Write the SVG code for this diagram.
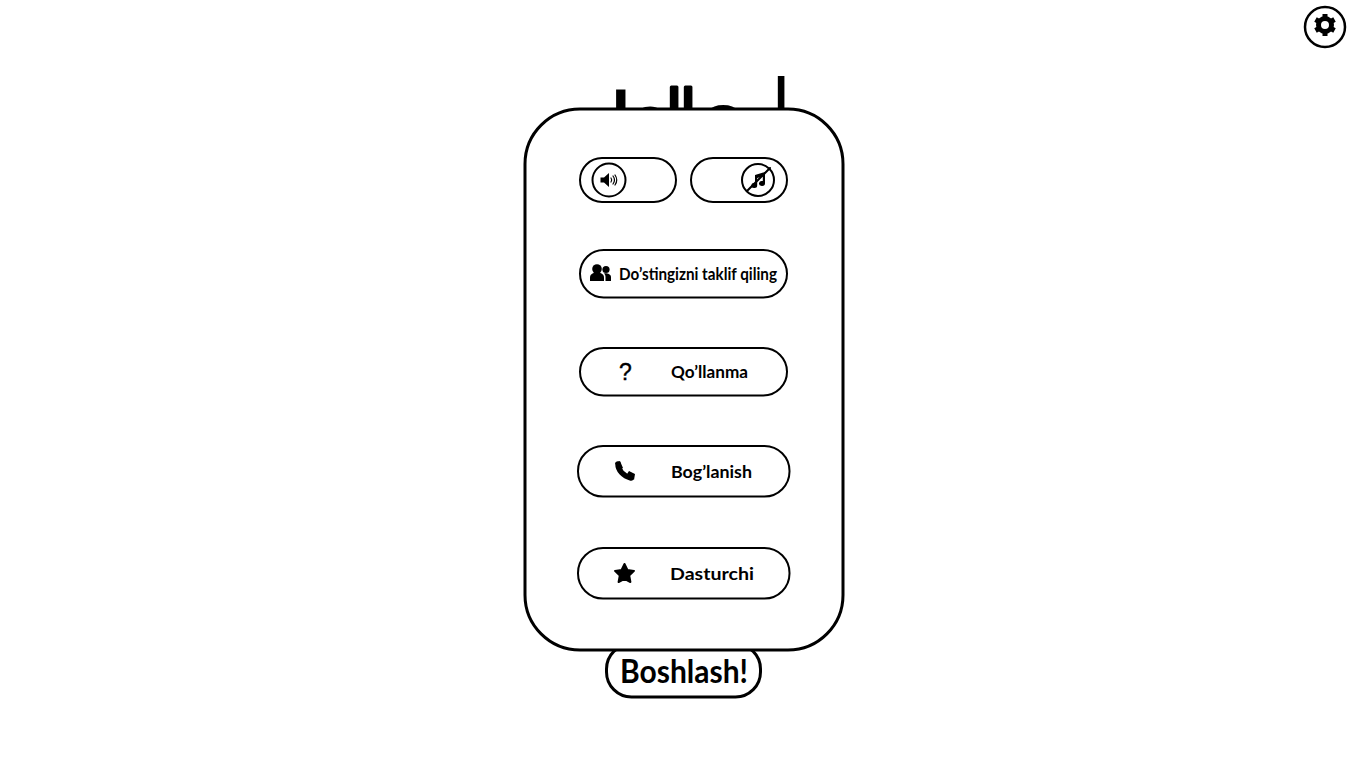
<svg xmlns="http://www.w3.org/2000/svg" width="1365" height="762" viewBox="0 0 1365 762">
<style>
.btn{fill:#fff;stroke:#000;stroke-width:2}
.lbl{font-family:"Lato","Noto Sans",sans-serif;font-size:17px;font-weight:700;fill:#000}
.ttl{font-family:"Liberation Sans",sans-serif;font-size:100px;fill:#000}
.ic{fill:#000}
.ln{fill:none;stroke:#000;stroke-linecap:round}
</style>
<rect width="1365" height="762" fill="#fff"/>
<g id="title">
<text x="578" y="161" font-family="Roboto,sans-serif" font-size="100" fill="#000">J</text>
<text class="ttl"><tspan x="633.500" y="137.500" font-size="60">a</tspan><tspan x="667 681" y="134 134" font-size="64" stroke="#000" stroke-width="3" stroke-linejoin="round">ll</tspan><tspan x="699.500" y="151" font-size="85">o</tspan></text>
<text class="ttl" transform="translate(747.800 213) scale(.75 1.9)">d</text>
</g>
<g id="start-button">
<rect x="606.500" y="644" width="154" height="53" rx="25" fill="#fff" stroke="#000" stroke-width="3"/>
<text x="620" y="683" font-family="Lato,sans-serif" font-size="32" font-weight="700" fill="#000" textLength="128" lengthAdjust="spacingAndGlyphs">Boshlash!</text>
</g>
<g id="panel"><rect x="525" y="109" width="318" height="541" rx="55" fill="#fff" stroke="#000" stroke-width="3"/></g>
<g id="sound-toggle">
<rect class="btn" x="580" y="158" width="96" height="44" rx="22"/>
<circle class="btn" cx="609" cy="180" r="16.500"/>
<path class="ic" d="M600.500 177.500h3.500l5-4.500v14l-5-4.500h-3.500z"/>
<path class="ln" stroke-width="1.200" d="M611 178q1.500 2 0 4M613 176q3 4 0 8M615 175q3.500 5 0 10"/>
</g>
<g id="music-toggle">
<rect class="btn" x="691" y="158" width="96" height="44" rx="22"/>
<circle class="btn" cx="758" cy="180" r="16"/>
<path class="ic" d="M755 175l10-3v11.500a3 2.500 0 1 1-2.200-2.400v-4.600l-5.600 1.600v7.500a3 2.500 0 1 1-2.200-2.400z"/>
<path class="ln" stroke-width="2" d="M747 191l23-23"/>
</g>
<g id="invite-button">
<rect class="btn" x="580" y="250" width="207" height="47.500" rx="23.700"/>
<g class="ic"><circle cx="597" cy="269" r="4.800"/><circle cx="606" cy="269.500" r="3.600"/>
<path d="M590 281v-3.500c0-3 2.500-4.500 4.500-4.500h5c2 0 4.500 1.500 4.500 4.500v3.500z"/><path d="M605.500 281v-4c0-1.500-.5-2.500-1.500-3.500 2-.7 7 .2 7 3.500v4z"/></g>
<text class="lbl" x="619" y="280" textLength="158" lengthAdjust="spacingAndGlyphs">Do’stingizni taklif qiling</text>
</g>
<g id="guide-button">
<rect class="btn" x="580" y="348" width="207" height="47.500" rx="23.700"/>
<text x="625.500" y="380" text-anchor="middle" font-family="Liberation Sans,sans-serif" font-size="23" font-weight="400" fill="#000" stroke="#000" stroke-width=".4">?</text>
<text class="lbl" x="671" y="378" textLength="77" lengthAdjust="spacingAndGlyphs">Qo’llanma</text>
</g>
<g id="contact-button">
<rect class="btn" x="578" y="446" width="211.500" height="50.500" rx="25"/>
<path class="ln" stroke-width="5.500" stroke-linejoin="round" d="M618 464c0 6 5 12 13 14"/>
<path class="ic" d="M615 463l5-2 3 7-4 2zM627 474l2-3 6 3-1 6z"/>
<text class="lbl" x="671" y="478" textLength="81" lengthAdjust="spacingAndGlyphs">Bog’lanish</text>
</g>
<g id="developer-button">
<rect class="btn" x="578" y="548" width="211.500" height="50.500" rx="25"/>
<path class="ic" stroke="#000" stroke-width="2" stroke-linejoin="round" d="M624.500 564l2.900 6 6.600.900-4.800 4.600 1.200 6.500-5.900-3.100-5.900 3.100 1.200-6.500-4.800-4.600 6.600-.900z"/>
<text class="lbl" x="670" y="580" textLength="84" lengthAdjust="spacingAndGlyphs">Dasturchi</text>
</g>
<g id="settings-button">
<circle cx="1325" cy="27" r="20" fill="#fff" stroke="#000" stroke-width="2.500"/>
<circle cx="1325" cy="25" r="6.500" fill="none" stroke="#000" stroke-width="5"/>
<path class="ln" stroke-width="5" style="stroke-linecap:butt" d="M1325 14v4M1325 32v4M1315.500 19.500l3.500 2M1331 28.500l3.500 2M1315.500 30.500l3.500-2M1331 21.500l3.500-2"/>
</g>
</svg>
